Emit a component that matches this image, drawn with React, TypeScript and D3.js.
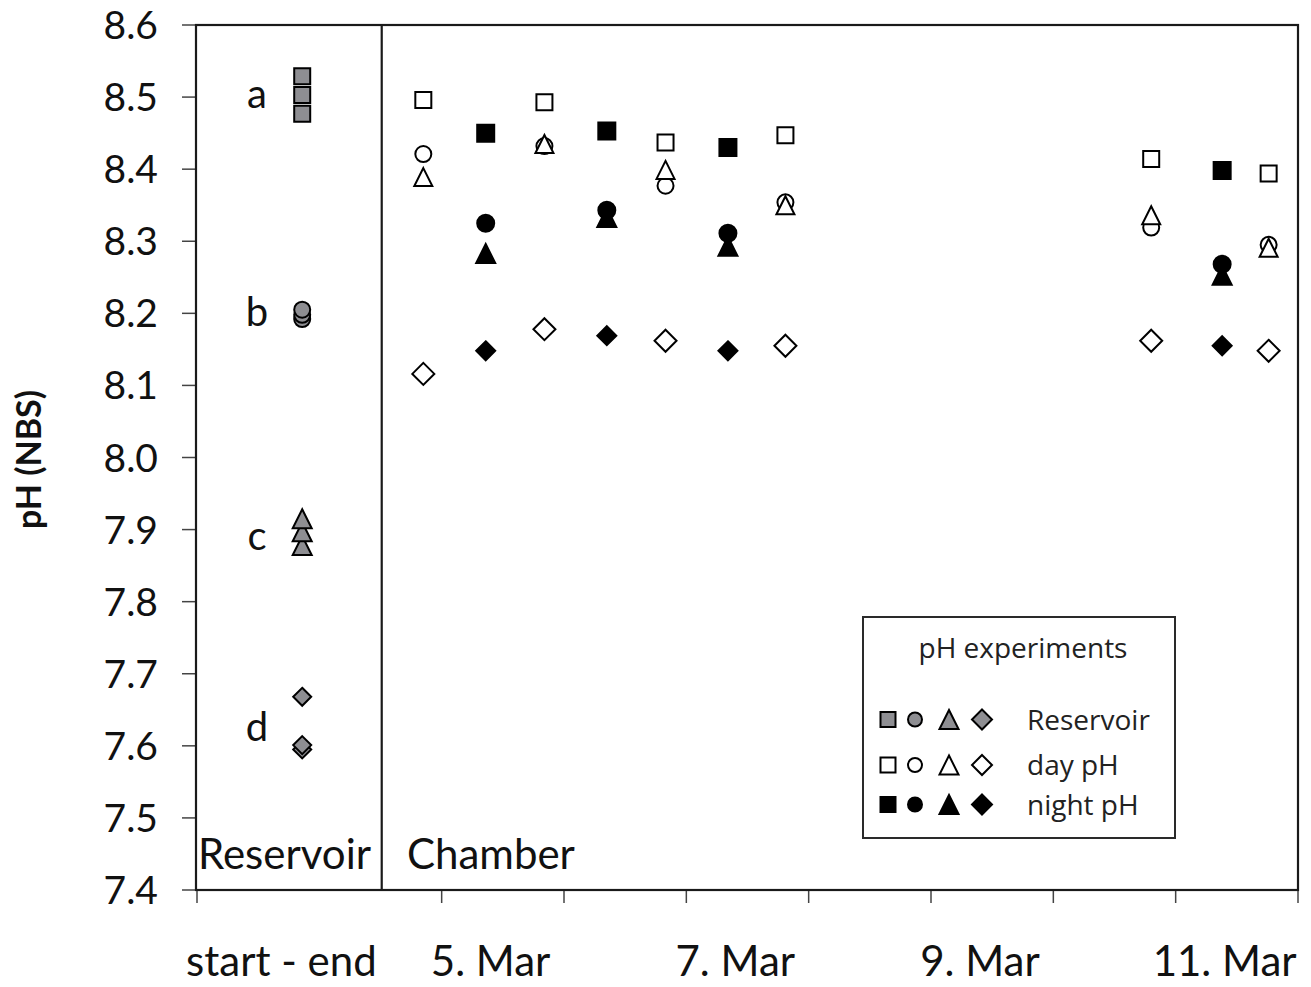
import React from "react";
import * as d3 from "d3";

// ---- Data (pH, NBS scale) ----
// Reservoir measurements (start – end), four experiments a–d
const reservoirA = [8.477, 8.503, 8.529];
const reservoirB = [8.192, 8.198, 8.205];
const reservoirC = [7.878, 7.897, 7.915];
const reservoirD = [7.595, 7.601, 7.668];
const reservoirDay = 3.46;

// Chamber sampling times (day of March)
const dayTimes = [4.45, 5.44, 6.43, 7.41, 10.4, 11.36];
const nightTimes = [4.96, 5.95, 6.94, 10.98];

// Chamber day pH
const daySquare = [8.496, 8.493, 8.437, 8.447, 8.414, 8.394];
const dayCircle = [8.421, 8.432, 8.377, 8.354, 8.319, 8.295];
const dayTriangle = [8.389, 8.435, 8.399, 8.35, 8.336, 8.291];
const dayDiamond = [8.116, 8.178, 8.162, 8.155, 8.162, 8.148];

// Chamber night pH
const nightSquare = [8.45, 8.453, 8.43, 8.398];
const nightCircle = [8.325, 8.343, 8.311, 8.268];
const nightTriangle = [8.283, 8.333, 8.293, 8.253];
const nightDiamond = [8.148, 8.169, 8.148, 8.155];

// Axis ticks and labels
const yTickValues = [7.4, 7.5, 7.6, 7.7, 7.8, 7.9, 8.0, 8.1, 8.2, 8.3, 8.4, 8.5, 8.6];
const xTickDays = [2.6, 4.6, 5.6, 6.6, 7.6, 8.6, 9.6, 10.6, 11.6];
const xLabelText = ["start - end", "5. Mar", "7. Mar", "9. Mar", "11. Mar"];
const xLabelDay = [3.29, 5, 7, 9, 11];

// Experiment letters beside the reservoir values
const groupLetters = ["a", "b", "c", "d"];
const groupLetterPH = [8.5, 8.198, 7.886, 7.622];
const groupLetterDay = 3.09;

const dividerDay = 4.11;

const legendRows = ["Reservoir", "day pH", "night pH"];

// ---- Layout ----
const W = 1311;
const H = 987;
const plot = { left: 197, right: 1298, top: 25, bottom: 890 };

const x = d3.scaleLinear().domain([2.6, 11.6]).range([plot.left, plot.right]);
const y = d3.scaleLinear().domain([7.4, 8.6]).range([plot.bottom, plot.top]);

// Marker shapes; the size argument is the full width of the shape in px
const squareType = {
  draw(ctx: any, w: number) {
    const h = w / 2;
    ctx.moveTo(-h, -h);
    ctx.lineTo(h, -h);
    ctx.lineTo(h, h);
    ctx.lineTo(-h, h);
    ctx.closePath();
  },
};
const circleType = {
  draw(ctx: any, w: number) {
    const r = w / 2;
    ctx.moveTo(r, 0);
    ctx.arc(0, 0, r, 0, 2 * Math.PI);
  },
};
const triangleType = {
  draw(ctx: any, w: number) {
    const h = w / 2;
    ctx.moveTo(0, -h);
    ctx.lineTo(h, h);
    ctx.lineTo(-h, h);
    ctx.closePath();
  },
};
const diamondType = {
  draw(ctx: any, w: number) {
    const h = w / 2;
    ctx.moveTo(0, -h);
    ctx.lineTo(h, 0);
    ctx.lineTo(0, h);
    ctx.lineTo(-h, 0);
    ctx.closePath();
  },
};

const shapePath = (type: any, w: number) => d3.symbol().type(type).size(w)() as string;

const GRAY = "#8e8e92";
const INK = "#111";

type Style = { fill: string; w: number };

const Marker = ({ cx, cy, type, style }: { cx: number; cy: number; type: any; style: Style }) => (
  <path
    d={shapePath(type, style.w)}
    transform={`translate(${cx},${cy})`}
    fill={style.fill}
    stroke="#000"
    strokeWidth={2}
    strokeLinejoin="miter"
  />
);

const Series = ({ xs, ys, type, style }: { xs: number[]; ys: number[]; type: any; style: Style }) => (
  <g>
    {ys.map((v, i) => (
      <Marker key={i} cx={x(xs[i])} cy={y(v)} type={type} style={style} />
    ))}
  </g>
);

const FONT = "Lato, 'Open Sans', sans-serif";
const LEGEND_FONT = "'Open Sans', Lato, sans-serif";

export default function App() {
  const resX = (vals: number[]) => vals.map(() => reservoirDay);

  const legendX = [888, 915, 949, 982];
  const legendY = [719.5, 765, 804.5];
  const legendTypes = [squareType, circleType, triangleType, diamondType];
  const legendWidths = [15, 14, 19, 20];
  const legendFills = [GRAY, "#fff", "#000"];

  return (
    <svg
      width={W}
      height={H}
      viewBox={`0 0 ${W} ${H}`}
      style={{ position: "absolute", left: 0, top: 0, background: "#fff" }}
    >
      <rect x={0} y={0} width={W} height={H} fill="#fff" />

      {/* y-axis ticks and labels */}
      {yTickValues.map((v) => (
        <g key={v}>
          <line x1={182} x2={plot.left} y1={y(v)} y2={y(v)} stroke="#444" strokeWidth={1.5} />
          <text
            x={158}
            y={y(v)}
            dy="0.36em"
            textAnchor="end"
            fontFamily={FONT}
            fontSize={39}
            fill={INK}
          >
            {v.toFixed(1)}
          </text>
        </g>
      ))}

      {/* x-axis ticks and labels */}
      {xTickDays.map((d) => (
        <line key={d} x1={x(d)} x2={x(d)} y1={plot.bottom} y2={plot.bottom + 13} stroke="#444" strokeWidth={1.5} />
      ))}
      {xLabelText.map((t, i) => (
        <text
          key={t}
          x={x(xLabelDay[i])}
          y={976}
          textAnchor="middle"
          fontFamily={FONT}
          fontSize={42}
          fill={INK}
        >
          {t}
        </text>
      ))}

      {/* y-axis title */}
      <text
        transform={`translate(41,${(plot.top + plot.bottom) / 2 + 2}) rotate(-90)`}
        textAnchor="middle"
        fontFamily={FONT}
        fontWeight={700}
        fontSize={34}
        fill={INK}
      >
        pH (NBS)
      </text>

      {/* plot frame */}
      <rect
        x={plot.left - 1}
        y={plot.top}
        width={plot.right - plot.left + 1}
        height={plot.bottom - plot.top}
        fill="none"
        stroke="#1a1a1a"
        strokeWidth={2.2}
      />
      <line x1={x(dividerDay)} x2={x(dividerDay)} y1={plot.top} y2={plot.bottom} stroke="#1a1a1a" strokeWidth={2.2} />

      {/* section names */}
      <text x={198} y={869} fontFamily={FONT} fontSize={42} fill={INK}>
        Reservoir
      </text>
      <text x={407} y={869} fontFamily={FONT} fontSize={42} fill={INK}>
        Chamber
      </text>

      {/* experiment letters */}
      {groupLetters.map((l, i) => (
        <text
          key={l}
          x={x(groupLetterDay)}
          y={y(groupLetterPH[i])}
          dy="0.27em"
          textAnchor="middle"
          fontFamily={FONT}
          fontSize={40}
          fill={INK}
        >
          {l}
        </text>
      ))}

      {/* reservoir values */}
      <Series xs={resX(reservoirA)} ys={reservoirA} type={squareType} style={{ fill: GRAY, w: 16 }} />
      <Series xs={resX(reservoirB)} ys={reservoirB} type={circleType} style={{ fill: GRAY, w: 16 }} />
      <Series xs={resX(reservoirC)} ys={reservoirC} type={triangleType} style={{ fill: GRAY, w: 19 }} />
      <Series xs={resX(reservoirD)} ys={reservoirD} type={diamondType} style={{ fill: GRAY, w: 18 }} />

      {/* chamber: day (open) and night (filled) */}
      <Series xs={dayTimes} ys={daySquare} type={squareType} style={{ fill: "#fff", w: 16 }} />
      <Series xs={dayTimes} ys={dayCircle} type={circleType} style={{ fill: "#fff", w: 16 }} />
      <Series xs={dayTimes} ys={dayTriangle} type={triangleType} style={{ fill: "#fff", w: 18 }} />
      <Series xs={dayTimes} ys={dayDiamond} type={diamondType} style={{ fill: "#fff", w: 22 }} />

      <Series xs={nightTimes} ys={nightSquare} type={squareType} style={{ fill: "#000", w: 17 }} />
      <Series xs={nightTimes} ys={nightCircle} type={circleType} style={{ fill: "#000", w: 17 }} />
      <Series xs={nightTimes} ys={nightTriangle} type={triangleType} style={{ fill: "#000", w: 19 }} />
      <Series xs={nightTimes} ys={nightDiamond} type={diamondType} style={{ fill: "#000", w: 19 }} />

      {/* legend */}
      <g>
        <rect x={863} y={617} width={312} height={221} fill="#fff" stroke="#2a2a2a" strokeWidth={2} />
        <text x={1023} y={658} textAnchor="middle" fontFamily={LEGEND_FONT} fontSize={28} fill="#222">
          pH experiments
        </text>
        {legendRows.map((label, r) => (
          <g key={label}>
            {legendTypes.map((t, c) => (
              <path
                key={c}
                d={shapePath(t, legendWidths[c])}
                transform={`translate(${legendX[c]},${legendY[r]})`}
                fill={legendFills[r]}
                stroke="#000"
                strokeWidth={2}
              />
            ))}
            <text
              x={1027}
              y={legendY[r] + 10}
              fontFamily={LEGEND_FONT}
              fontSize={28}
              fill="#222"
            >
              {label}
            </text>
          </g>
        ))}
      </g>
    </svg>
  );
}
